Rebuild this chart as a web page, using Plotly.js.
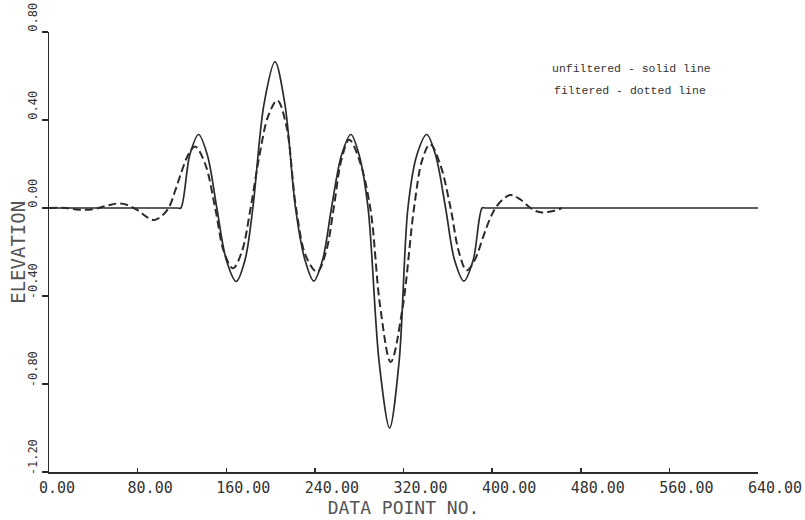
<!DOCTYPE html>
<html>
<head>
<meta charset="utf-8">
<script src="https://cdn.plot.ly/plotly-3.0.1.min.js"></script>
<style>html,body{margin:0;padding:0;background:#fff;}#chart{width:805px;height:520px;}</style>
</head>
<body>
<div id="chart"></div>
<script>
// Unfiltered series (solid line)
const unfilteredX = [0, 116, 119, 127, 135, 143, 151.5, 160, 169, 177, 184, 194, 204, 213, 222.5, 231, 239, 247, 255, 264, 272.5, 280, 288, 298, 307.5, 316, 324, 332, 341, 349, 358, 366, 374.5, 383, 391, 394, 640];
const unfilteredY = [0, 0, 0, 0.24, 0.334, 0.24, 0, -0.235, -0.334, -0.235, 0, 0.47, 0.665, 0.47, 0, -0.235, -0.332, -0.235, 0, 0.24, 0.334, 0.24, 0, -0.7, -1.0, -0.7, 0, 0.24, 0.334, 0.24, 0, -0.235, -0.332, -0.235, 0, 0, 0];

// Filtered series (dotted line)
const filteredX = [0, 15, 27, 40, 52, 61, 70, 80, 88, 95, 102, 108, 114, 120, 126, 132, 141, 150, 158, 166, 174, 182, 190, 198, 206, 214, 223, 232, 242, 250, 257, 264, 271, 280, 290, 299, 308.5, 319, 329.5, 337, 344, 353, 362.5, 370, 377, 384, 392, 398, 403, 410, 416.5, 425, 434.7, 440, 445, 454, 463];
const filteredY = [0, 0, -0.008, -0.005, 0.01, 0.02, 0.015, -0.01, -0.04, -0.055, -0.035, 0, 0.08, 0.17, 0.245, 0.279, 0.2, 0, -0.2, -0.274, -0.2, 0, 0.24, 0.42, 0.489, 0.38, 0, -0.22, -0.29, -0.2, 0, 0.22, 0.31, 0.22, 0, -0.45, -0.70, -0.46, 0, 0.22, 0.29, 0.2, 0, -0.2, -0.283, -0.24, -0.13, -0.05, 0, 0.04, 0.059, 0.04, 0, -0.015, -0.02, -0.015, 0];

// Axis ticks
const xTickVals = [0, 80, 160, 240, 320, 400, 480, 560, 640];
const xTickText = ['0.00', '80.00', '160.00', '240.00', '320.00', '400.00', '480.00', '560.00', '640.00'];
const yTickVals = [-1.2, -0.8, -0.4, 0, 0.4, 0.8];
const yTickText = ['-1.20', '-0.80', '-0.40', '0.00', '0.40', '0.80'];

// Titles and legend notes
const xTitle = 'DATA POINT NO.';
const yTitle = 'ELEVATION';
const notes = ['unfiltered - solid line', 'filtered - dotted line'];

const NB = '\u00A0';
function pad(s, n) { while (s.length < n) s += NB; return s; }

const ink = '#2b2b2b';
const traces = [
  {x: unfilteredX, y: unfilteredY, type: 'scatter', mode: 'lines', name: 'unfiltered',
   line: {color: ink, width: 1.7, shape: 'spline', smoothing: 0.9}, hoverinfo: 'skip'},
  {x: filteredX, y: filteredY, type: 'scatter', mode: 'lines', name: 'filtered',
   line: {color: ink, width: 2, dash: '8px,4px', shape: 'spline'}, hoverinfo: 'skip'}
];

const layout = {
  width: 805, height: 520,
  margin: {l: 49, r: 47, t: 32, b: 48},
  paper_bgcolor: '#ffffff', plot_bgcolor: '#ffffff',
  showlegend: false,
  font: {family: 'DejaVu Sans Mono, monospace', color: '#333'},
  xaxis: {
    range: [0, 640], showgrid: false, zeroline: false,
    showline: true, linecolor: ink, linewidth: 1.5,
    ticks: 'inside', ticklen: 4, tickcolor: ink, tickwidth: 1.5,
    tickvals: xTickVals, ticktext: xTickText.map(s => pad(s, 6)),
    ticklabelshift: 17, ticklabelstandoff: 1, ticklabeloverflow: 'allow',
    tickfont: {family: 'DejaVu Sans Mono', size: 15, color: '#333'},
    title: {text: xTitle, font: {family: 'DejaVu Sans Mono', size: 18, color: '#555'}, standoff: 6}
  },
  yaxis: {
    range: [-1.2, 0.8], showgrid: false, zeroline: false,
    showline: true, linecolor: ink, linewidth: 1.5,
    ticks: 'outside', ticklen: 6, tickcolor: ink, tickwidth: 1.5,
    tickvals: yTickVals, ticktext: yTickText,
    tickangle: -90, ticklabelshift: -13, ticklabelstandoff: 0, ticklabeloverflow: 'allow',
    tickfont: {family: 'DejaVu Sans Mono', size: 12, color: '#333'}
  },
  annotations: [
    {xref: 'paper', yref: 'paper', x: -0.044, y: 0.5, xanchor: 'center', yanchor: 'middle', showarrow: false,
     textangle: -90, text: yTitle, font: {family: 'DejaVu Sans Mono', size: 19, color: '#555'}},
    {xref: 'paper', yref: 'paper', x: 0.707, y: 0.918, xanchor: 'left', yanchor: 'middle', showarrow: false,
     text: notes[0], font: {family: 'Liberation Mono', size: 11.5, color: '#333'}},
    {xref: 'paper', yref: 'paper', x: 0.710, y: 0.866, xanchor: 'left', yanchor: 'middle', showarrow: false,
     text: notes[1], font: {family: 'Liberation Mono', size: 11.5, color: '#333'}}
  ]
};

Plotly.newPlot('chart', traces, layout, {staticPlot: true, displayModeBar: false});
</script>
</body>
</html>
